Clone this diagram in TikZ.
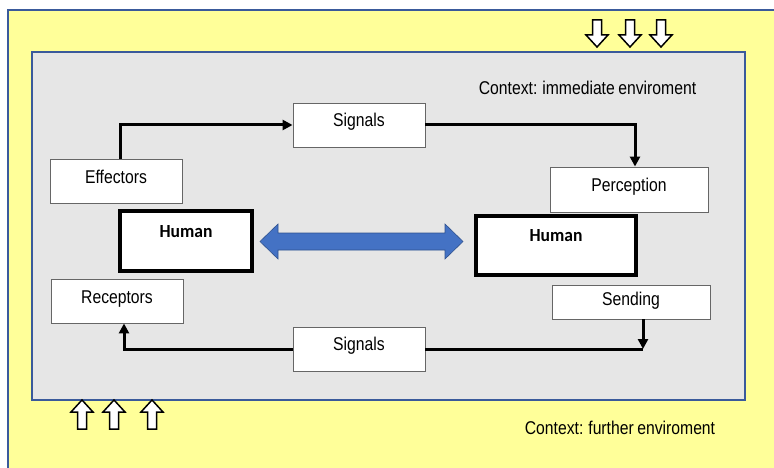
\documentclass[tikz,border=0pt]{standalone}
\usepackage{fontspec}
\setmainfont{Liberation Sans}[FakeStretch=0.85, WordSpace=0.8]
\newfontfamily\humanfont{Carlito}[FakeStretch=0.95]
\usetikzlibrary{arrows.meta,calc}

\definecolor{outerfill}{HTML}{FFFF99}
\definecolor{innerfill}{HTML}{E6E6E6}
\definecolor{frameblue}{HTML}{3A5A9B}
\definecolor{boxline}{HTML}{666666}
\definecolor{linkblue}{HTML}{4472C4}
\definecolor{linkedge}{HTML}{2F528F}

\tikzset{
  txt/.style={font=\fontsize{18.5}{22}\selectfont, inner sep=0pt},
  smallbox/.style={draw=boxline, line width=0.9pt, fill=white, inner sep=0pt,
    minimum width=132pt, minimum height=44pt,
    font=\fontsize{18.5}{22}\selectfont, text height=10pt, text depth=6pt},
  widebox/.style={smallbox, minimum width=158pt},
  humanbox/.style={draw=black, line width=4pt, fill=white, inner sep=0pt},
  humanlabel/.style={font=\humanfont\bfseries\fontsize{18.5}{22}\selectfont, inner sep=0pt},
  conn/.style={line width=3pt, -{Triangle[length=10pt,width=10pt]}},
  plainconn/.style={line width=3pt},
  blockarrow/.style={draw=black, line width=1.5pt, fill=white, line join=miter},
}

\begin{document}
\begin{tikzpicture}[x=1pt,y=-1pt]
\useasboundingbox (0,0) rectangle (774,468);

% further environment
\fill[outerfill] (8,10) rectangle (774,468);
\draw[frameblue, line width=2pt] (774,10) -- (8,10) -- (8,468);

% immediate environment
\draw[frameblue, line width=2pt, fill=innerfill] (32,52) rectangle (745,400);

% influences from the further environment
\foreach \cx in {597,630,661}
  \draw[blockarrow] ({\cx-4.5},20) -- ({\cx+4.5},20) -- ({\cx+4.5},35) -- ({\cx+11},35)
    -- (\cx,47) -- ({\cx-11},35) -- ({\cx-4.5},35) -- cycle;
\foreach \cx in {82,114,152}
  \draw[blockarrow] (\cx,400) -- ({\cx+11},412) -- ({\cx+4.5},412) -- ({\cx+4.5},429)
    -- ({\cx-4.5},429) -- ({\cx-4.5},412) -- ({\cx-11},412) -- cycle;

\node[txt] (ctxin) at (587.5,88) {Context: immediate enviroment};
\node[txt] (ctxout) at (620,428) {Context: further enviroment};

% boxes
\node[smallbox] (sigtop) at (359,125) {Signals};
\node[smallbox] (eff) at (116,181) {Effectors};
\node[widebox, minimum height=45pt, text depth=7pt] (perc) at (629,189.5) {Perception};
\node[smallbox] (rec) at (117,301) {Receptors};
\node[widebox, minimum height=34pt, text depth=3pt] (send) at (631,302) {Sending};
\node[smallbox, text depth=8pt] (sigbot) at (359,349) {Signals};

\node[humanbox, minimum width=132pt, minimum height=60pt] (hl) at (186,241) {};
\node[humanlabel] (hltext) at (186,232) {Human};
\node[humanbox, minimum width=160pt, minimum height=59pt] (hr) at (556,245.5) {};
\node[humanlabel] (hrtext) at (556,236) {Human};

% exchange between the two humans
\coordinate (al) at ([xshift=6pt]hl.east |- 0,241.5);
\coordinate (ar) at ([xshift=-11pt]hr.west |- 0,241.5);
\filldraw[fill=linkblue, draw=linkedge, line width=0.6pt, line join=miter]
  (al) -- ++(18,-17.5) -- ++(0,9) -- ($(ar)+(-18,-8.5)$) -- ++(0,-9) -- (ar)
  -- ++(-18,17.5) -- ++(0,-9) -- ($(al)+(18,8.5)$) -- ++(0,9) -- cycle;

% signal loop
\draw[conn] ([xshift=4pt]eff.north) |- (sigtop.west);
\draw[conn] (sigtop.east) -| ([xshift=6pt]perc.north);
\coordinate (join) at ([xshift=12pt]send.south |- sigbot.east);
\draw[conn] ([xshift=12pt]send.south) -- (join);
\draw[plainconn] (sigbot.east) -- (join);
\draw[conn] (sigbot.west) -| ([xshift=7pt]rec.south);
\end{tikzpicture}
\end{document}
